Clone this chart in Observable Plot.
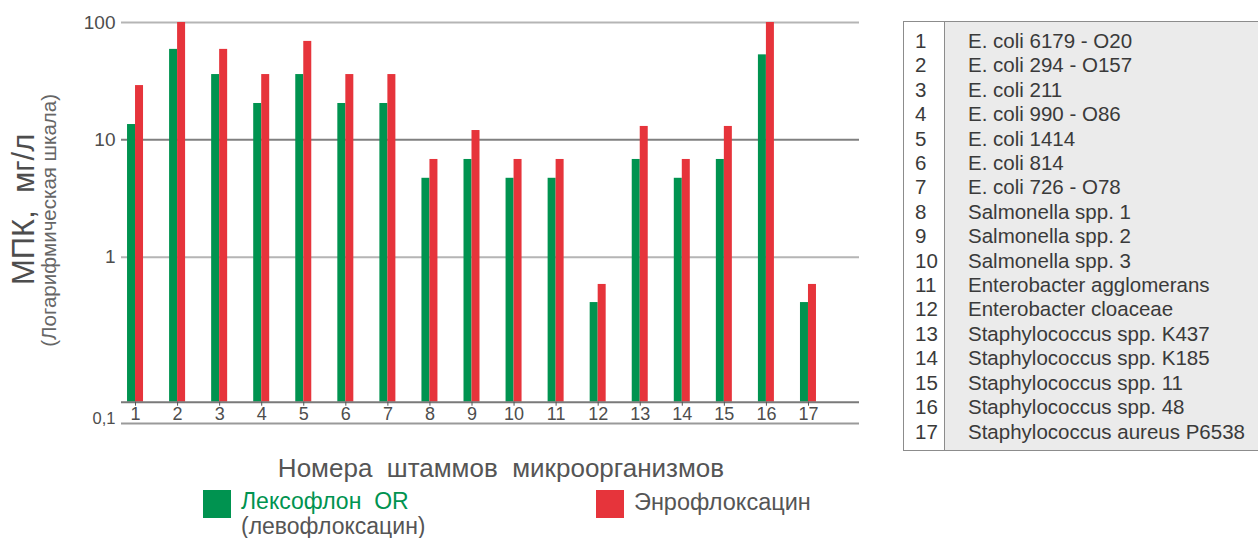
<!DOCTYPE html>
<html>
<head>
<meta charset="utf-8">
<script src="https://cdn.jsdelivr.net/npm/d3@7"></script>
<script src="https://cdn.jsdelivr.net/npm/@observablehq/plot@0.6"></script>
<style>
  body { margin: 0; background: #fff; font-family: "Liberation Sans", Arial, sans-serif; color: #4d4d4d; }
  #page { position: relative; width: 1258px; height: 538px; overflow: hidden; }
  #chart { position: absolute; left: 0; top: 0; }
  #strains {
    position: absolute; left: 903px; top: 21px; width: 360px;
    border: 1px solid #8c8c8c; box-sizing: border-box;
    padding: 7px 0 6px 0;
    background: linear-gradient(to right, #fff 0, #fff 40px, #8c8c8c 40px, #8c8c8c 41px, #ebebeb 41px);
    font-size: 20.5px; line-height: 24.4px; color: #3a3a3a;
  }
  #strains .row { display: flex; white-space: nowrap; }
  #strains .num { width: 40px; padding-left: 11px; box-sizing: border-box; }
  #strains .name { padding-left: 24px; }
  .abs { position: absolute; white-space: pre; }
  .swatch { position: absolute; width: 28px; height: 28px; }
  #chart svg text { font-family: "Liberation Sans", Arial, sans-serif; }
</style>
</head>
<body>
<div id="page">
  <div id="chart"></div>
  <div id="strains"></div>
  <div id="xtitle" class="abs" style="left:501px; top:453px; transform:translateX(-50%); font-size:26px; line-height:30px; color:#555;"></div>
  <div id="legend"></div>
</div>
<script>
// Strain numbers and names
const strainIds = [1, 2, 3, 4, 5, 6, 7, 8, 9, 10, 11, 12, 13, 14, 15, 16, 17];
const strainNames = [
  "E. coli 6179 - O20",
  "E. coli 294 - O157",
  "E. coli 211",
  "E. coli 990 - O86",
  "E. coli 1414",
  "E. coli 814",
  "E. coli 726 - O78",
  "Salmonella spp. 1",
  "Salmonella spp. 2",
  "Salmonella spp. 3",
  "Enterobacter agglomerans",
  "Enterobacter cloaceae",
  "Staphylococcus spp. K437",
  "Staphylococcus spp. K185",
  "Staphylococcus spp. 11",
  "Staphylococcus spp. 48",
  "Staphylococcus aureus P6538"
];

// МПК, мг/л for each strain
const lexoflon = [13.5, 59, 36, 20.4, 36, 20.4, 20.4, 4.7, 6.8, 4.7, 4.7, 0.41, 6.8, 4.7, 6.8, 53, 0.41];
const enrofloxacin = [29, 100, 59, 36, 69, 36, 36, 6.8, 12, 6.8, 6.8, 0.585, 13, 6.8, 13, 100, 0.585];

const seriesNames = ["Лексофлон  OR", "Энрофлоксацин"];
const seriesNote = "(левофлоксацин)";
const yTicks = [1, 10, 100];
const yFloor = 0.058;          // bars and the x axis start at this level
const yBottomLabel = "0,1";
const xTitle = "Номера  штаммов  микроорганизмов";
const yTitle = "МПК,  мг/л";
const ySubtitle = "(Логарифмическая шкала)";

const GREEN = "#009350";
const RED = "#e6343b";

const rows = strainIds.map((id, i) => ({id, lex: lexoflon[i], enr: enrofloxacin[i]}));

const chart = Plot.plot({
  width: 890,
  height: 440,
  marginTop: 22,
  marginLeft: 121,
  marginRight: 31,
  marginBottom: 38.3,
  style: {fontFamily: "'Liberation Sans', Arial, sans-serif", fontSize: "16px", color: "#4d4d4d", background: "transparent", overflow: "visible"},
  x: {type: "band", domain: strainIds, range: [114, 829], paddingInner: 0.6196, paddingOuter: 0.3098, round: false},
  y: {type: "log", domain: [yFloor, 100]},
  marks: [
    Plot.ruleY([100, 1], {stroke: "#b5b5b5", strokeWidth: 2}),
    Plot.ruleY([10], {stroke: "#808080", strokeWidth: 2}),
    Plot.barY(rows, {x: "id", y1: yFloor, y2: "lex", fill: GREEN, insetRight: 8}),
    Plot.barY(rows, {x: "id", y1: yFloor, y2: "enr", fill: RED, insetLeft: 8}),
    Plot.ruleY([yFloor], {stroke: "#7a7a7a", strokeWidth: 2}),
    Plot.axisX({tickSize: 4, tickPadding: 1, fontSize: 18, label: null, stroke: "#555", fill: "#4d4d4d"}),
    Plot.axisY({ticks: yTicks, tickSize: 0, tickPadding: 6, tickFormat: d => String(d), fontSize: 19, label: null, fill: "#4d4d4d"}),
    // lower reference line of the log axis
    Plot.ruleY([yFloor], {dy: 21.3, stroke: "#9a9a9a", strokeWidth: 2}),
    Plot.text([yBottomLabel], {frameAnchor: "bottom-left", text: d => d, textAnchor: "end", dx: -6, dy: 21.3, fontSize: 16.5, fill: "#4d4d4d"}),
    // y axis titles
    Plot.text([yTitle], {frameAnchor: "left", text: d => d, textAnchor: "middle", rotate: -90, dx: -97, dy: -3, fontSize: 31, fill: "#4d4d4d"}),
    Plot.text([ySubtitle], {frameAnchor: "left", text: d => d, textAnchor: "middle", rotate: -90, dx: -72, dy: 8, fontSize: 20.5, fill: "#666"})
  ]
});
document.getElementById("chart").appendChild(chart);

// strain list
const list = document.getElementById("strains");
strainIds.forEach((id, i) => {
  const row = document.createElement("div");
  row.className = "row";
  row.innerHTML = `<span class="num">${id}</span><span class="name">${strainNames[i]}</span>`;
  list.appendChild(row);
});

document.getElementById("xtitle").textContent = xTitle;

// legend
const legend = document.getElementById("legend");
legend.innerHTML = `
  <div class="swatch" style="left:203px; top:490px; background:${GREEN}"></div>
  <div class="abs" style="left:241px; top:490px; font-size:23px; line-height:23px; color:${GREEN}">${seriesNames[0]}</div>
  <div class="abs" style="left:241px; top:515px; font-size:23px; line-height:23px; color:#555">${seriesNote}</div>
  <div class="swatch" style="left:596px; top:490px; background:${RED}"></div>
  <div class="abs" style="left:634px; top:491px; font-size:23.5px; line-height:23px; color:#555">${seriesNames[1]}</div>
`;
</script>
</body>
</html>
